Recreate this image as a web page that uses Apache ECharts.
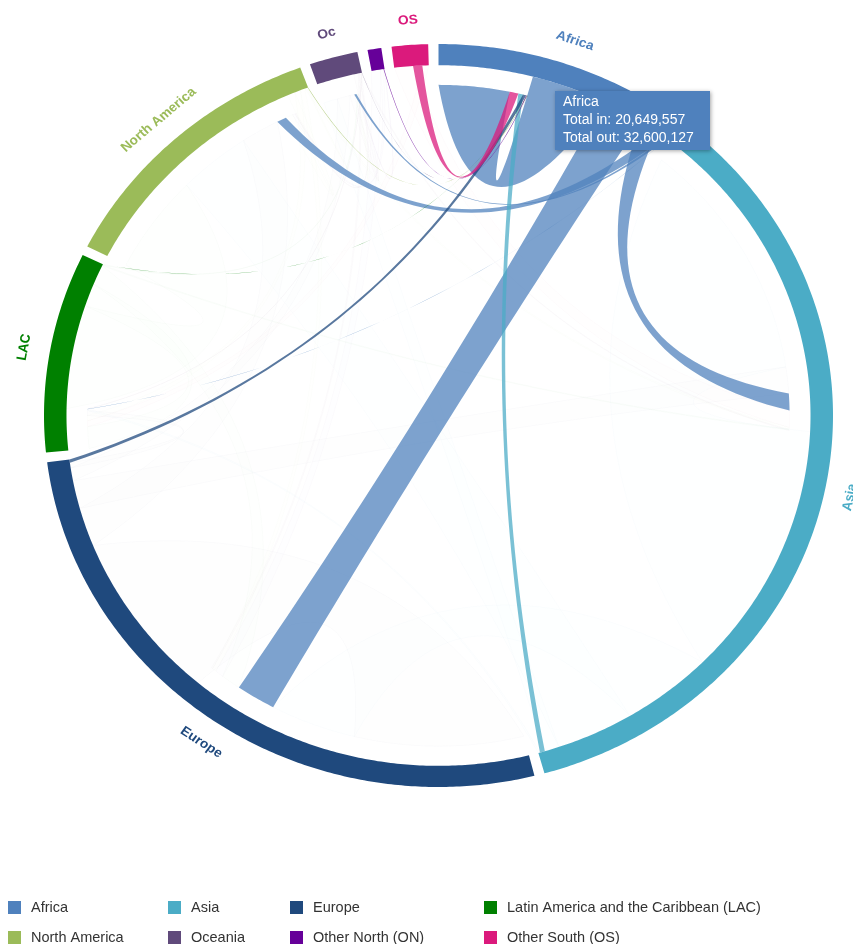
<!DOCTYPE html>
<html>
<head>
<meta charset="utf-8">
<script src="https://cdn.jsdelivr.net/npm/echarts@6/dist/echarts.min.js"></script>
<style>
html, body { margin: 0; padding: 0; background: #fff; }
#chart { width: 853px; height: 944px; }
</style>
</head>
<body>
<div id="chart"></div>
<script>
// ---- data -------------------------------------------------------------
const regions = ['Africa', 'Asia', 'Europe', 'LAC', 'North America', 'Oceania', 'ON', 'OS'];
const ringLabels = ['Africa', 'Asia', 'Europe', 'LAC', 'North America', 'Oc', '', 'OS'];
const legendNames = ['Africa', 'Asia', 'Europe', 'Latin America and the Caribbean (LAC)',
  'North America', 'Oceania', 'Other North (ON)', 'Other South (OS)'];
const regionColors = ['#4f81bd', '#4bacc6', '#1f497d', '#008000', '#9bbb59', '#604a7b', '#660099', '#db1a7c'];

// migrant stock (persons) by origin (array) -> destination (in regions order)
const fromAfrica       = [16470000, 4190000, 9200000, 40000, 2200000, 500127, 0, 0];
const fromAsia         = [1100000, 59200000, 20000000, 350000, 17000000, 3200000, 0, 0];
const fromEurope       = [750000, 6500000, 39250000, 1200000, 9000000, 3000000, 0, 0];
const fromLAC          = [30000, 200000, 4600000, 5350000, 24000000, 150000, 0, 0];
const fromNorthAmerica = [120000, 400000, 1000000, 1300000, 1700000, 250000, 0, 0];
const fromOceania      = [29557, 200000, 300000, 20000, 300000, 1000000, 0, 0];
const fromOtherNorth   = [150000, 0, 2000000, 0, 600000, 100000, 0, 0];
const fromOtherSouth   = [2000000, 4100000, 0, 1400000, 0, 0, 0, 0];
const highlighted = 'Africa';

const matrix = [fromAfrica, fromAsia, fromEurope, fromLAC, fromNorthAmerica, fromOceania, fromOtherNorth, fromOtherSouth];

// ---- directed chord layout (angles in degrees, clockwise from top) -----
const PAD = 1.5;
function chordLayout(m) {
  const n = m.length;
  const sums = [];
  for (let i = 0; i < n; i++) {
    let s = 0;
    for (let j = 0; j < n; j++) s += m[i][j] + m[j][i];
    sums.push(s);
  }
  const total = sums.reduce((a, b) => a + b, 0);
  const k = (360 - PAD * n) / total;
  const groups = [], src = {}, tgt = {};
  let a = 0;
  for (let i = 0; i < n; i++) {
    const a0 = a;
    const ins = [], outs = [];
    for (let j = 0; j < n; j++) {
      if (m[j][i] > 0) ins.push(j);
      if (m[i][j] > 0) outs.push(j);
    }
    ins.sort((p, q) => m[q][i] - m[p][i]);
    outs.sort((p, q) => m[i][q] - m[i][p]);
    ins.forEach(j => { const b = a; a += m[j][i] * k; tgt[j + '-' + i] = [b, a]; });
    outs.forEach(j => { const b = a; a += m[i][j] * k; src[i + '-' + j] = [b, a]; });
    groups.push({ index: i, start: a0, end: a });
    a += PAD;
  }
  const chords = [];
  for (let i = 0; i < n; i++) for (let j = 0; j < n; j++) {
    if (m[i][j] > 0) chords.push({ source: i, target: j, value: m[i][j], s: src[i + '-' + j], t: tgt[i + '-' + j] });
  }
  return { groups, chords };
}
const layout = chordLayout(matrix);
const hi = regions.indexOf(highlighted);
const faint = layout.chords.filter(c => c.source !== hi && c.target !== hi);
const strong = layout.chords.filter(c => c.source === hi).concat(layout.chords.filter(c => c.source !== hi && c.target === hi));
const orderedChords = faint.concat(strong);

const totalOut = matrix[hi].reduce((a, b) => a + b, 0);
const totalIn = matrix.reduce((a, row) => a + row[hi], 0);

// ---- geometry helpers ---------------------------------------------------
const R_OUT = 1, R_IN = 0.943, R_SRC = 0.943, R_TGT = 0.89, R_LABEL = 1.066;
const STRETCH_X = 394.5 / 371.5;
const CTRL = 0.42;

function hexToRgba(hex, a) {
  const v = parseInt(hex.slice(1), 16);
  return 'rgba(' + ((v >> 16) & 255) + ',' + ((v >> 8) & 255) + ',' + (v & 255) + ',' + a + ')';
}
function arcPoints(api, r, a0, a1) {
  const steps = Math.max(2, Math.ceil(Math.abs(a1 - a0) * 2));
  const pts = [];
  for (let s = 0; s <= steps; s++) pts.push(api.coord([r, a0 + (a1 - a0) * s / steps]));
  return pts;
}
function curvePoints(p0, p2, c) {
  const m = [(p0[0] + p2[0]) / 2, (p0[1] + p2[1]) / 2];
  const q = [c[0] + (m[0] - c[0]) * CTRL, c[1] + (m[1] - c[1]) * CTRL];
  const pts = [];
  const steps = 40;
  for (let s = 1; s < steps; s++) {
    const t = s / steps, u = 1 - t;
    pts.push([u * u * p0[0] + 2 * u * t * q[0] + t * t * p2[0], u * u * p0[1] + 2 * u * t * q[1] + t * t * p2[1]]);
  }
  return pts;
}

function renderRibbon(params, api) {
  const c = orderedChords[api.value(2)];
  const center = api.coord([0, 0]);
  const srcArc = arcPoints(api, R_SRC, c.s[0], c.s[1]);
  const tgtArc = arcPoints(api, R_TGT, c.t[0], c.t[1]);
  let pts = srcArc.slice();
  pts = pts.concat(curvePoints(srcArc[srcArc.length - 1], tgtArc[0], center));
  pts = pts.concat(tgtArc);
  pts = pts.concat(curvePoints(tgtArc[tgtArc.length - 1], srcArc[0], center));
  const isStrong = c.source === hi || c.target === hi;
  const col = regionColors[c.source];
  return {
    type: 'polygon',
    originX: center[0], originY: center[1], scaleX: STRETCH_X,
    shape: { points: pts },
    style: isStrong
      ? { fill: hexToRgba(col, 0.74), lineWidth: 0 }
      : { fill: hexToRgba(col, 0.004), stroke: hexToRgba(col, 0.045), lineWidth: 0.5 },
    silent: true
  };
}

function renderGroup(params, api) {
  const g = layout.groups[api.value(2)];
  const center = api.coord([0, 0]);
  const outer = arcPoints(api, R_OUT, g.start, g.end);
  const inner = arcPoints(api, R_IN, g.end, g.start);
  const mid = (g.start + g.end) / 2;
  const lp = api.coord([R_LABEL, mid]);
  const flip = mid > 90 && mid < 270;
  const rotDeg = flip ? mid - 180 : mid;
  const children = [{
    type: 'polygon',
    shape: { points: outer.concat(inner) },
    style: { fill: regionColors[g.index] }
  }];
  if (ringLabels[g.index]) {
    children.push({
      type: 'text',
      x: lp[0], y: lp[1],
      rotation: -rotDeg * Math.PI / 180,
      style: {
        text: ringLabels[g.index],
        fill: regionColors[g.index],
        font: 'bold 13px "Liberation Sans", Arial, sans-serif',
        align: 'center', verticalAlign: 'middle'
      }
    });
  }
  return {
    type: 'group',
    originX: center[0], originY: center[1], scaleX: STRETCH_X,
    children: children
  };
}

// ---- chart --------------------------------------------------------------
const chart = echarts.init(document.getElementById('chart'));

const legendSeries = legendNames.map((name, i) => ({
  type: 'custom',
  name: name,
  coordinateSystem: 'none',
  itemStyle: { color: regionColors[i] },
  data: [],
  renderItem: function () { return null; }
}));

function legendBlock(left, names) {
  return {
    orient: 'vertical',
    left: left, top: 900, height: 60,
    padding: 0,
    itemWidth: 13, itemHeight: 13, itemGap: 15,
    icon: 'rect',
    selectedMode: false,
    data: names,
    textStyle: { fontSize: 14.5, color: '#333', fontFamily: '"Liberation Sans", Arial, sans-serif', padding: [0, 0, 0, 5] }
  };
}

const tipLines = [highlighted, 'Total in: ' + totalIn.toLocaleString('en-US'), 'Total out: ' + totalOut.toLocaleString('en-US')];

chart.setOption({
  animation: false,
  backgroundColor: '#fff',
  polar: { center: [438.5, 415.5], radius: 371.5 },
  angleAxis: {
    type: 'value', min: 0, max: 360, startAngle: 90, clockwise: true,
    show: false, axisLine: { show: false }, axisTick: { show: false }, axisLabel: { show: false }, splitLine: { show: false }
  },
  radiusAxis: {
    type: 'value', min: 0, max: 1,
    show: false, axisLine: { show: false }, axisTick: { show: false }, axisLabel: { show: false }, splitLine: { show: false }
  },
  legend: [
    legendBlock(8, [legendNames[0], legendNames[4]]),
    legendBlock(168, [legendNames[1], legendNames[5]]),
    legendBlock(290, [legendNames[2], legendNames[6]]),
    legendBlock(484, [legendNames[3], legendNames[7]])
  ],
  graphic: [{
    type: 'group',
    left: 555, top: 91, z: 100,
    children: [
      {
        type: 'rect', z: 100,
        shape: { x: 0, y: 0, width: 155, height: 59 },
        style: { fill: '#4f81bd', shadowBlur: 4, shadowColor: 'rgba(0,0,0,0.35)', shadowOffsetX: 1, shadowOffsetY: 1 }
      },
      {
        type: 'text', x: 8, y: 2, z: 101,
        style: { text: tipLines.join('\n'), fill: '#fff', font: '14px "Liberation Sans", Arial, sans-serif', lineHeight: 18 }
      }
    ]
  }],
  series: [
    {
      type: 'custom', name: 'flows', coordinateSystem: 'polar', z: 1, silent: true, clip: false,
      data: orderedChords.map((c, i) => [0.5, 180, i]),
      renderItem: renderRibbon
    },
    {
      type: 'custom', name: 'regions', coordinateSystem: 'polar', z: 2, silent: true, clip: false,
      data: layout.groups.map((g, i) => [1, (g.start + g.end) / 2, i]),
      renderItem: renderGroup
    }
  ].concat(legendSeries)
});
</script>
</body>
</html>
